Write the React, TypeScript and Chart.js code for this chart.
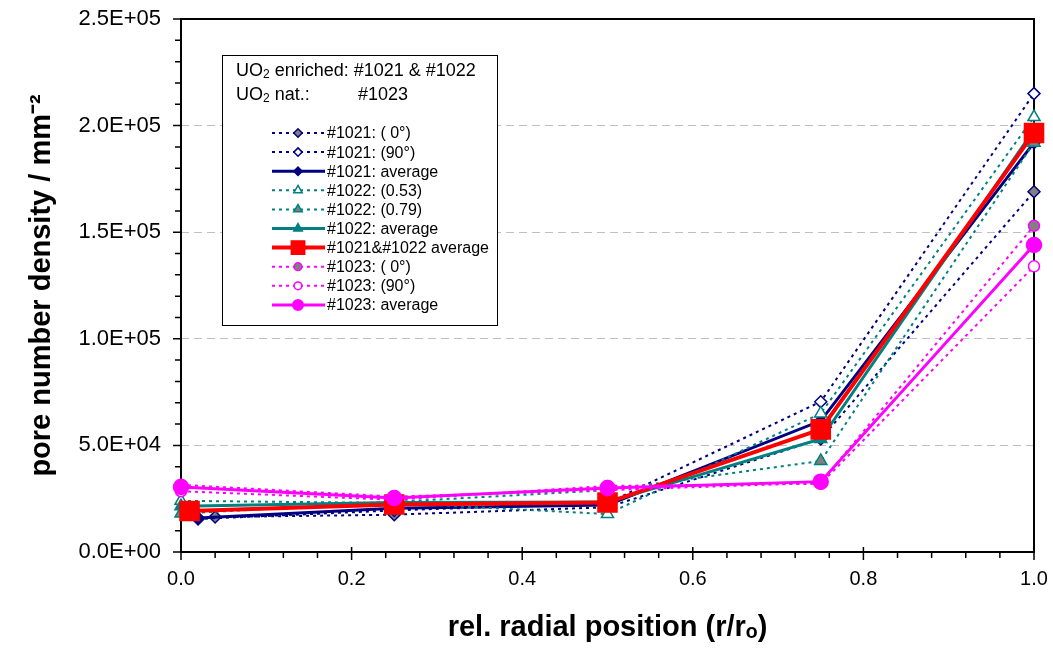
import React, { useEffect, useRef } from 'react';
import { Chart, registerables } from 'chart.js';
import { drawPoint } from 'chart.js/helpers';

Chart.register(...registerables);

// ---- data ----
const xTickLabels = ['0.0', '0.2', '0.4', '0.6', '0.8', '1.0'];
const yTickLabels = ['0.0E+00', '5.0E+04', '1.0E+05', '1.5E+05', '2.0E+05', '2.5E+05'];

const legendHeader1 = ['UO', '2', ' enriched: #1021 & #1022'];
const legendHeader2 = ['UO', '2', ' nat.:', '#1023'];

const seriesLabels = [
  '#1021: ( 0°)',
  '#1021: (90°)',
  '#1021: average',
  '#1022: (0.53)',
  '#1022: (0.79)',
  '#1022: average',
  '#1021&#1022 average',
  '#1023: ( 0°)',
  '#1023: (90°)',
  '#1023: average',
];

const x1021_0 = [0.04, 0.25, 0.5, 0.75, 1.0];
const y1021_0 = [16400, 17500, 21000, 53000, 169000];
const x1021_90 = [0.02, 0.25, 0.5, 0.75, 1.0];
const y1021_90 = [15500, 19500, 23000, 70500, 215000];
const x1021_avg = [0.02, 0.25, 0.5, 0.75, 1.0];
const y1021_avg = [16000, 20500, 22000, 61500, 192000];

const x1022_053 = [0.0, 0.25, 0.5, 0.75, 1.0];
const y1022_053 = [24000, 23000, 17800, 65000, 204000];
const x1022_079 = [0.0, 0.25, 0.5, 0.75, 1.0];
const y1022_079 = [18000, 23500, 29000, 42700, 192000];
const x1022_avg = [0.0, 0.25, 0.5, 0.75, 1.0];
const y1022_avg = [21500, 23200, 23400, 53000, 198000];

const xBothAvg = [0.01, 0.25, 0.5, 0.75, 1.0];
const yBothAvg = [19200, 22300, 23200, 57500, 196500];

const x1023_0 = [0.0, 0.25, 0.5, 0.75, 1.0];
const y1023_0 = [31500, 26000, 29000, 32500, 153000];
const x1023_90 = [0.0, 0.25, 0.5, 0.75, 1.0];
const y1023_90 = [28500, 24500, 31000, 32000, 134000];
const x1023_avg = [0.0, 0.25, 0.5, 0.75, 1.0];
const y1023_avg = [30500, 25300, 30000, 33000, 144000];

// ---- styles ----
const NAVY = '#000080';
const TEAL = '#008080';
const RED = '#FF0000';
const MAGENTA = '#FF00FF';
const GRAY = '#808080';
const WHITE = '#FFFFFF';
const FONT = "'Liberation Sans', Arial, Helvetica, sans-serif";
const DOT = [3, 4];

function makeDataset(
  label: string,
  xs: number[],
  ys: number[],
  color: string,
  dashed: boolean,
  width: number,
  style: string,
  radius: number,
  fill: string,
  order: number,
) {
  return {
    label,
    data: xs.map((x, i) => ({ x, y: ys[i] })),
    borderColor: color,
    backgroundColor: fill,
    borderWidth: width,
    borderDash: dashed ? DOT : [],
    pointStyle: style,
    pointRadius: radius,
    pointHoverRadius: radius,
    pointBackgroundColor: fill,
    pointBorderColor: color,
    pointBorderWidth: 1.5,
    tension: 0,
    fill: false,
    clip: false as any,
    order,
  };
}

const framePlugin = {
  id: 'frameTicks',
  beforeDatasetsDraw(chart: any) {
    const { ctx, chartArea: a, scales } = chart;
    const xs = scales.x;
    const ys = scales.y;
    ctx.save();
    ctx.setLineDash([]);
    ctx.strokeStyle = '#000';
    ctx.lineWidth = 2;
    ctx.strokeRect(a.left, a.top, a.right - a.left, a.bottom - a.top);
    ctx.lineWidth = 1.5;
    ctx.beginPath();
    for (let k = 0; k <= 25; k++) {
      const v = k * 0.04;
      const px = xs.getPixelForValue(v);
      if (k % 5 === 0) {
        ctx.moveTo(px, a.bottom - 5);
        ctx.lineTo(px, a.bottom + 8);
      } else {
        ctx.moveTo(px, a.bottom);
        ctx.lineTo(px, a.bottom + 6);
      }
    }
    for (let k = 0; k <= 25; k++) {
      const v = k * 10000;
      const py = ys.getPixelForValue(v);
      const len = k % 5 === 0 ? 8 : 6;
      ctx.moveTo(a.left - len, py);
      ctx.lineTo(a.left, py);
    }
    ctx.stroke();
    ctx.restore();
  },
};

const legendPlugin = {
  id: 'boxLegend',
  afterDraw(chart: any) {
    const { ctx, chartArea: a } = chart;
    const left = a.left + 41;
    const top = a.top + 36;
    const w = 275;
    const h = 270;
    ctx.save();
    ctx.setLineDash([]);
    ctx.fillStyle = '#fff';
    ctx.fillRect(left, top, w, h);
    ctx.strokeStyle = '#000';
    ctx.lineWidth = 1;
    ctx.strokeRect(left + 0.5, top + 0.5, w, h);

    // header lines
    const hs = 18;
    const fs = 16;
    ctx.fillStyle = '#000';
    ctx.textBaseline = 'middle';
    ctx.textAlign = 'left';
    const drawUO2 = (x: number, y: number) => {
      ctx.font = `${hs}px ${FONT}`;
      ctx.fillText('UO', x, y);
      let cx = x + ctx.measureText('UO').width;
      ctx.font = `${Math.round(hs * 0.65)}px ${FONT}`;
      ctx.fillText('2', cx, y + 4);
      cx += ctx.measureText('2').width;
      ctx.font = `${hs}px ${FONT}`;
      return cx;
    };
    let hx = drawUO2(left + 14, top + 16);
    ctx.fillText(legendHeader1[2], hx, top + 16);
    hx = drawUO2(left + 14, top + 40);
    ctx.fillText(legendHeader2[2], hx, top + 40);
    ctx.fillText(legendHeader2[3], left + 136, top + 40);

    // items
    const datasets = chart.data.datasets;
    const lx0 = left + 50;
    const lx1 = left + 103;
    const mx = left + 76;
    const tx = left + 105;
    for (let i = 0; i < datasets.length; i++) {
      const d = datasets[i];
      const y = top + 78 + i * 19.1;
      ctx.save();
      ctx.strokeStyle = d.borderColor;
      ctx.lineWidth = d.borderWidth;
      ctx.setLineDash(d.borderDash || []);
      ctx.beginPath();
      ctx.moveTo(lx0, y);
      ctx.lineTo(lx1, y);
      ctx.stroke();
      ctx.setLineDash([]);
      ctx.fillStyle = d.pointBackgroundColor;
      ctx.strokeStyle = d.pointBorderColor;
      ctx.lineWidth = d.pointBorderWidth;
      drawPoint(ctx, {
        pointStyle: d.pointStyle,
        radius: d.pointRadius * 0.7,
        rotation: 0,
        borderWidth: d.pointBorderWidth,
      } as any, mx, y);
      ctx.restore();
      ctx.fillStyle = '#000';
      ctx.font = `${fs}px ${FONT}`;
      ctx.textBaseline = 'middle';
      ctx.fillText(d.label, tx, y + 1);
    }
    ctx.restore();
  },
};

export default function App() {
  const ref = useRef<HTMLCanvasElement | null>(null);

  useEffect(() => {
    if (!ref.current) return;
    const n = 10;
    const datasets = [
      makeDataset(seriesLabels[0], x1021_0, y1021_0, NAVY, true, 2, 'rectRot', 6, GRAY, n - 0),
      makeDataset(seriesLabels[1], x1021_90, y1021_90, NAVY, true, 2, 'rectRot', 6, WHITE, n - 1),
      makeDataset(seriesLabels[2], x1021_avg, y1021_avg, NAVY, false, 3, 'rectRot', 6, NAVY, n - 2),
      makeDataset(seriesLabels[3], x1022_053, y1022_053, TEAL, true, 2, 'triangle', 7, WHITE, n - 3),
      makeDataset(seriesLabels[4], x1022_079, y1022_079, TEAL, true, 2, 'triangle', 7, GRAY, n - 4),
      makeDataset(seriesLabels[5], x1022_avg, y1022_avg, TEAL, false, 3, 'triangle', 7, TEAL, n - 5),
      makeDataset(seriesLabels[6], xBothAvg, yBothAvg, RED, false, 4, 'rect', 13.5, RED, n - 6),
      makeDataset(seriesLabels[7], x1023_0, y1023_0, MAGENTA, true, 2, 'circle', 5.5, GRAY, n - 7),
      makeDataset(seriesLabels[8], x1023_90, y1023_90, MAGENTA, true, 2, 'circle', 5.5, WHITE, n - 8),
      makeDataset(seriesLabels[9], x1023_avg, y1023_avg, MAGENTA, false, 3, 'circle', 7.5, MAGENTA, n - 9),
    ];

    const chart = new Chart(ref.current, {
      type: 'line',
      data: { datasets: datasets as any },
      plugins: [framePlugin, legendPlugin],
      options: {
        animation: false,
        responsive: false,
        events: [],
        layout: { padding: { top: 19, right: 19, left: 0, bottom: 0 } },
        plugins: {
          legend: { display: false },
          tooltip: { enabled: false },
          title: { display: false },
        },
        scales: {
          x: {
            type: 'linear',
            min: 0,
            max: 1,
            grid: { display: false, drawTicks: true, tickLength: 15, tickColor: 'rgba(0,0,0,0)' },
            border: { display: false },
            ticks: {
              stepSize: 0.2,
              padding: 0,
              color: '#000',
              maxRotation: 0,
              autoSkip: false,
              font: { family: FONT, size: 20 },
              callback: (v: any) => xTickLabels[Math.round(Number(v) / 0.2)] ?? '',
            },
            title: {
              display: true,
              text: 'rel. radial position (r/rₒ)',
              color: '#000',
              font: { family: FONT, size: 29, weight: 'bold' },
              padding: { top: 0, bottom: 3 },
            },
            afterFit: (s: any) => {
              s.height = 96;
            },
          },
          y: {
            type: 'linear',
            min: 0,
            max: 250000,
            grid: {
              drawTicks: true,
              tickLength: 20,
              tickColor: 'rgba(0,0,0,0)',
              lineWidth: 1,
              color: (c: any) => {
                const v = c.tick ? c.tick.value : 0;
                return v <= 0 || v >= 250000 ? 'rgba(0,0,0,0)' : '#BFBFBF';
              },
            },
            border: { display: false, dash: [8, 5] },
            ticks: {
              stepSize: 50000,
              padding: 0,
              color: '#000',
              autoSkip: false,
              font: { family: FONT, size: 22 },
              callback: (v: any) => yTickLabels[Math.round(Number(v) / 50000)] ?? '',
            },
            title: {
              display: true,
              text: 'pore number density / mm⁻²',
              color: '#000',
              font: { family: FONT, size: 29, weight: 'bold' },
              padding: { top: 25, bottom: 0 },
            },
            afterFit: (s: any) => {
              s.width = 181;
            },
          },
        },
      } as any,
    });
    return () => chart.destroy();
  }, []);

  return (
    <div style={{ position: 'fixed', left: 0, top: 0, width: 1053, height: 648, background: '#fff' }}>
      <canvas ref={ref} width={1053} height={648} style={{ width: 1053, height: 648, display: 'block' }} />
    </div>
  );
}
